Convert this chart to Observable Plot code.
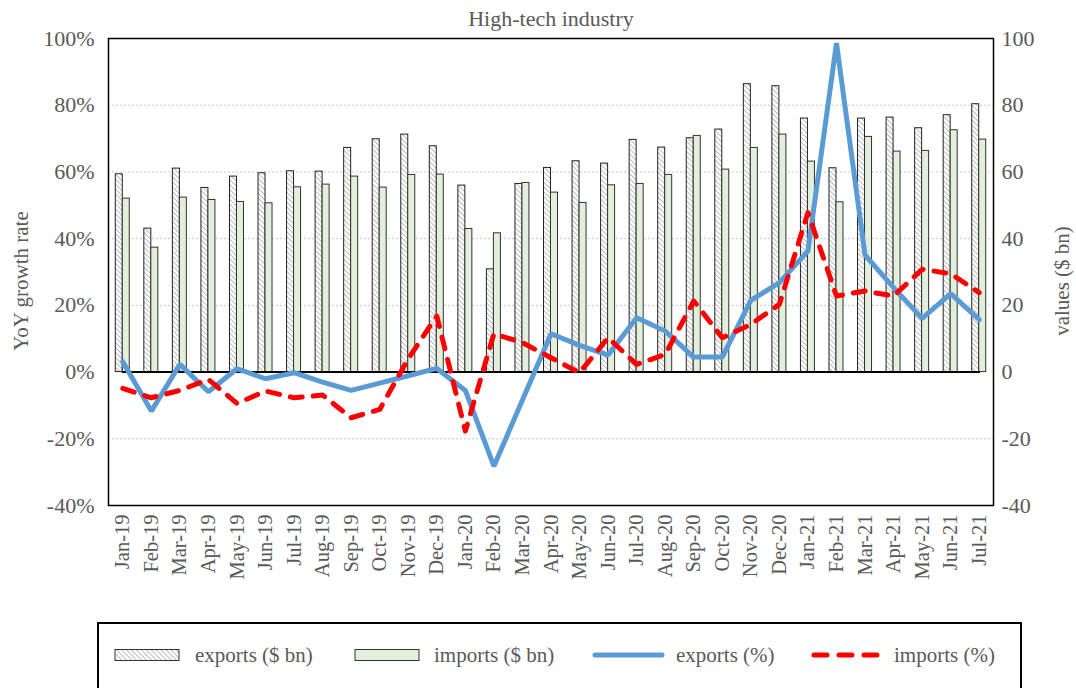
<!DOCTYPE html>
<html>
<head>
<meta charset="utf-8">
<script src="https://cdn.jsdelivr.net/npm/d3@7"></script>
<script src="https://cdn.jsdelivr.net/npm/@observablehq/plot@0.6"></script>
<style>
  html, body { margin: 0; padding: 0; background: #fff; overflow: hidden; }
  #wrap { position: relative; width: 1076px; height: 688px; }
  #chart { position: absolute; left: 0; top: 0; }
  #legend { position: absolute; left: 97px; top: 622px; width: 925px; height: 80px; border: 2px solid #000; box-sizing: border-box; font-family: "Liberation Serif", serif; font-size: 21px; color: #595959; }
  .sw { position: absolute; top: 24px; }
  .lt { position: absolute; top: 19px; line-height: 24px; white-space: nowrap; }
</style>
</head>
<body>
<div id="wrap">
  <div id="chart"></div>
  <div id="legend">
    <svg class="sw" style="left:15px" width="67" height="14"><defs><pattern id="hatchL" width="3.5" height="3.5" patternUnits="userSpaceOnUse" patternTransform="rotate(-45)"><rect width="3.5" height="3.5" fill="#fff"/><line x1="0" y1="0" x2="0" y2="3.5" stroke="#9a9a9a" stroke-width="1.3"/></pattern></defs><rect x="1" y="1.5" width="64" height="11" fill="url(#hatchL)" stroke="#333" stroke-width="1"/></svg>
    <div class="lt" style="left:96px">exports ($ bn)</div>
    <svg class="sw" style="left:255px" width="67" height="14"><rect x="1" y="1.5" width="64" height="11" fill="#e2efda" stroke="#333" stroke-width="1"/></svg>
    <div class="lt" style="left:335px">imports ($ bn)</div>
    <svg class="sw" style="left:493px" width="74" height="14"><line x1="3" y1="7" x2="70" y2="7" stroke="#5b9bd5" stroke-width="5" stroke-linecap="round"/></svg>
    <div class="lt" style="left:577px">exports (%)</div>
    <svg class="sw" style="left:711px" width="74" height="14"><line x1="4" y1="7" x2="70" y2="7" stroke="#ff0000" stroke-width="5" stroke-linecap="round" stroke-dasharray="13,12"/></svg>
    <div class="lt" style="left:795px">imports (%)</div>
  </div>
</div>
<script>
const months = ["Jan-19","Feb-19","Mar-19","Apr-19","May-19","Jun-19","Jul-19","Aug-19","Sep-19","Oct-19","Nov-19","Dec-19",
  "Jan-20","Feb-20","Mar-20","Apr-20","May-20","Jun-20","Jul-20","Aug-20","Sep-20","Oct-20","Nov-20","Dec-20",
  "Jan-21","Feb-21","Mar-21","Apr-21","May-21","Jun-21","Jul-21"];
const exportsBn = [59.3,43.0,61.0,55.2,58.6,59.6,60.2,60.1,67.2,69.8,71.2,67.7,
  55.9,30.8,56.4,61.2,63.2,62.5,69.6,67.3,70.1,72.7,86.3,85.7,
  76.0,61.1,76.0,76.3,73.1,77.0,80.3];
const importsBn = [52.0,37.3,52.3,51.6,51.0,50.6,55.4,56.2,58.6,55.3,59.1,59.2,
  42.9,41.6,56.7,53.8,50.7,56.0,56.4,59.1,70.8,60.7,67.2,71.2,
  63.1,50.9,70.5,66.1,66.3,72.5,69.7];
const exportsPct = [3.1,-11.7,2.3,-5.9,1.0,-2.0,-0.2,-3.0,-5.5,-3.3,-1.1,1.1,
  -5.5,-28.2,-8.4,11.5,8.0,5.1,16.3,12.3,4.5,4.5,21.5,26.8,
  36.3,98.6,35.1,25.3,16.1,23.5,15.7];
const importsPct = [-4.9,-7.7,-5.5,-2.2,-9.4,-5.7,-7.7,-6.9,-13.7,-11.2,4.0,16.8,
  -17.7,11.5,8.8,4.3,-0.2,10.3,2.3,5.3,21.3,10.3,14.3,20.3,
  47.8,22.8,24.3,22.8,30.8,29.5,23.8];
const yTicks = [-40,-20,0,20,40,60,80,100];
const gridTicks = [-20,20,40,60,80];

const rows = months.map((m, i) => ({month: m, exportsBn: exportsBn[i], importsBn: importsBn[i], exportsPct: exportsPct[i], importsPct: importsPct[i]}));

const W = 1076, ML = 108, MR = 83;
const bw = (W - ML - MR) / months.length;
const barW = 7;
const gray = "#595959";
const font = "Liberation Serif";

const chart = Plot.plot({
  width: W,
  height: 618,
  marginLeft: ML,
  marginRight: MR,
  marginTop: 38,
  marginBottom: 113,
  x: {domain: months, padding: 0, round: false},
  y: {domain: [-40, 100]},
  style: {fontFamily: font, background: "white", overflow: "visible"},
  marks: [
    Plot.ruleY(gridTicks, {stroke: "#c8c8c8", strokeDasharray: "2,2", strokeWidth: 1}),
    Plot.barY(rows, {x: "month", y: "exportsBn", insetLeft: bw/2 - barW, insetRight: bw/2, fill: "url(#hatch)", stroke: "#222", strokeWidth: 1}),
    Plot.barY(rows, {x: "month", y: "importsBn", insetLeft: bw/2, insetRight: bw/2 - barW, fill: "#e2efda", stroke: "#333", strokeWidth: 1}),
    Plot.lineY(months, {x: d => d, y: () => 0, stroke: "#000", strokeWidth: 2}),
    Plot.line(rows, {x: "month", y: "exportsPct", stroke: "#5b9bd5", strokeWidth: 5, strokeLinejoin: "miter"}),
    Plot.line(rows, {x: "month", y: "importsPct", stroke: "#ff0000", strokeWidth: 5, strokeDasharray: "12,11", strokeLinecap: "round"}),
    Plot.frame({stroke: "#000", strokeWidth: 1.5}),
    Plot.axisX({tickRotate: -90, tickSize: 0, tickPadding: 9, fontSize: 20.5, color: gray, label: null}),
    Plot.axisY({anchor: "left", ticks: yTicks, tickFormat: d => d + "%", tickSize: 0, tickPadding: 14, fontSize: 22, color: gray, label: null}),
    Plot.axisY({anchor: "right", ticks: yTicks, tickFormat: d => String(d), tickSize: 0, tickPadding: 8, fontSize: 22, color: gray, label: null}),
    Plot.text(["YoY growth rate"], {frameAnchor: "left", textAnchor: "middle", dx: -87, dy: 9, rotate: -90, fontSize: 21, fill: gray}),
    Plot.text(["values ($ bn)"], {frameAnchor: "right", textAnchor: "middle", dx: 69, dy: 9, rotate: -90, fontSize: 21, fill: gray}),
    Plot.text(["High-tech industry"], {frameAnchor: "top", lineAnchor: "middle", dy: -20, fontSize: 22, fill: gray})
  ]
});

d3.select(chart).insert("defs", ":first-child").html(
  '<pattern id="hatch" width="3.5" height="3.5" patternUnits="userSpaceOnUse" patternTransform="rotate(-45)">' +
  '<rect width="3.5" height="3.5" fill="#fff"/>' +
  '<line x1="0" y1="0" x2="0" y2="3.5" stroke="#9a9a9a" stroke-width="1.3"/></pattern>'
);

document.getElementById("chart").appendChild(chart);
</script>
</body>
</html>
